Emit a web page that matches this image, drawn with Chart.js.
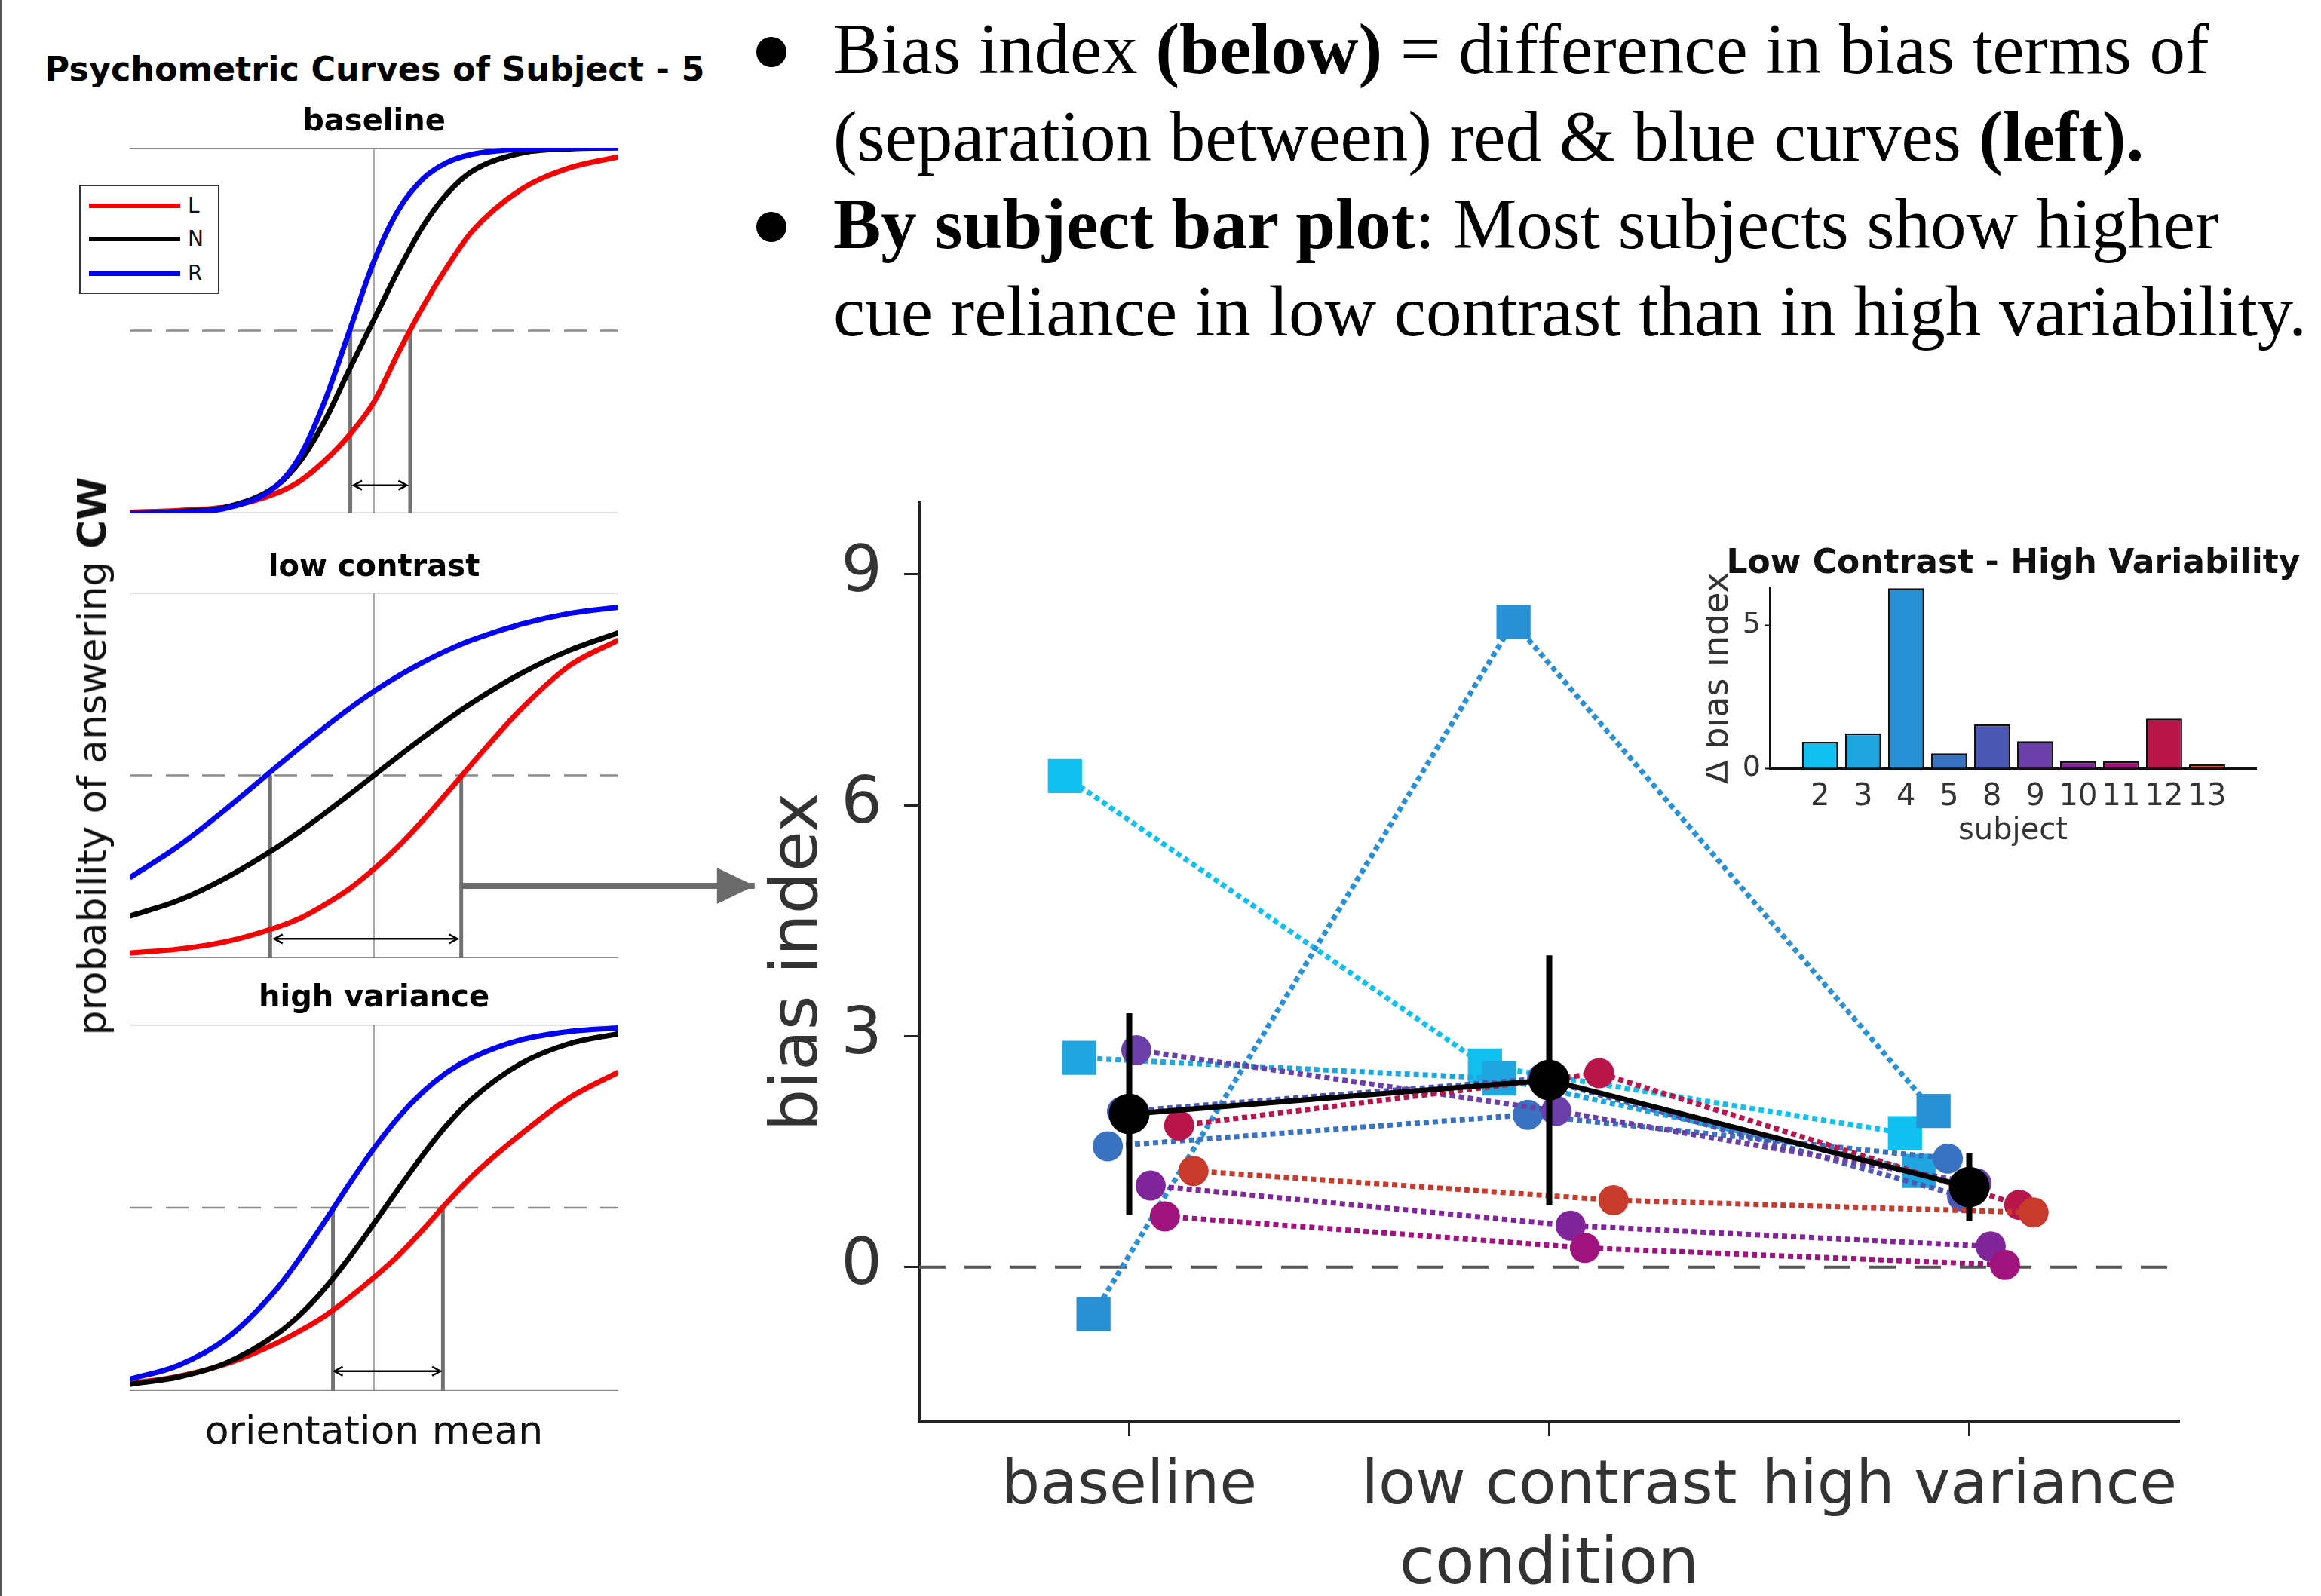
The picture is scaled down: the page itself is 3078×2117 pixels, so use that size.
<!DOCTYPE html>
<html>
<head>
<meta charset="utf-8">
<title>bias index</title>
<script src="https://cdn.jsdelivr.net/npm/chart.js@4.4.1/dist/chart.umd.min.js"></script>
<style>
  html, body { margin: 0; padding: 0; background: #fff; }
  body { width: 3078px; height: 2117px; position: relative; overflow: hidden; font-family: 'DejaVu Sans', sans-serif; }
  canvas { position: absolute; }
  #edge { position: absolute; left: 0; top: 0; width: 3px; height: 2117px; background: #555; }
  #title { position: absolute; left: 497px; top: 70px; transform: translateX(-50%); font-size: 44.5px; font-weight: bold; line-height: 1; white-space: nowrap; color: #000; }
  #notes { position: absolute; left: 1000px; top: 7px; font-family: 'Liberation Serif', 'Times New Roman', serif; font-size: 95px; line-height: 116px; color: #000; white-space: nowrap; }
  #notes .dot { display: inline-block; width: 40px; height: 40px; border-radius: 50%; background: #000; margin: 0 62px 0 3px; vertical-align: 8px; }
  #notes .cont { padding-left: 105px; }
  #ylab { position: absolute; left: 122px; top: 1003px; transform: translate(-50%, -50%) rotate(-90deg); font-size: 52px; line-height: 1; white-space: nowrap; color: #111; }
  #legend { position: absolute; left: 105px; top: 245px; width: 182px; height: 141px; border: 2px solid #333; background: #fff; }
  #legend .ln { position: absolute; left: 11px; width: 121px; height: 6px; }
  #legend .lb { position: absolute; left: 142px; font-size: 28px; line-height: 28px; color: #111; }
</style>
</head>
<body>
<div id="edge"></div>

<div id="notes">
  <div><span class="dot"></span>Bias index <b>(below)</b> = difference in bias terms of</div>
  <div class="cont">(separation between) red &amp; blue curves <b>(left).</b></div>
  <div><span class="dot"></span><b>By subject bar plot</b>: Most subjects show higher</div>
  <div class="cont">cue reliance in low contrast than in high variability.</div>
</div>

<div id="title">Psychometric Curves of Subject - 5</div>
<canvas id="base" width="1010" height="567" style="left:0;top:129px"></canvas>
<canvas id="low" width="1010" height="580" style="left:0;top:720px"></canvas>
<canvas id="high" width="1010" height="642" style="left:0;top:1291px"></canvas>
<div id="ylab">probability of answering <b>CW</b></div>
<div id="legend">
  <div class="ln" style="top:23px;background:#f50000"></div><div class="lb" style="top:12px">L</div>
  <div class="ln" style="top:67px;background:#000"></div><div class="lb" style="top:56px">N</div>
  <div class="ln" style="top:113px;background:#0000f5"></div><div class="lb" style="top:102px">R</div>
</div>

<canvas id="main" width="1910" height="1560" style="left:1000px;top:620px"></canvas>
<canvas id="inset" width="816" height="429" style="left:2262px;top:700px"></canvas>

<script>
// psychometric curves of subject 5
const orientX = [-10, -8, -6, -4, -3, -2, -1, 0, 1, 2, 3, 4, 6, 8, 10];
const baseL = [0.003, 0.008, 0.018, 0.055, 0.09, 0.145, 0.215, 0.305, 0.44, 0.565, 0.675, 0.77, 0.885, 0.945, 0.975];
const baseN = [0, 0.005, 0.018, 0.075, 0.145, 0.255, 0.395, 0.53, 0.665, 0.785, 0.875, 0.935, 0.985, 0.997, 1.0];
const baseR = [0, 0.003, 0.015, 0.075, 0.16, 0.31, 0.50, 0.69, 0.83, 0.915, 0.96, 0.982, 0.996, 0.999, 1.0];
const lowL = [0.014, 0.025, 0.046, 0.084, 0.11, 0.147, 0.19, 0.244, 0.306, 0.377, 0.453, 0.531, 0.68, 0.80, 0.87];
const lowN = [0.115, 0.158, 0.222, 0.302, 0.348, 0.397, 0.448, 0.50, 0.552, 0.603, 0.652, 0.698, 0.778, 0.842, 0.89];
const lowR = [0.22, 0.307, 0.411, 0.523, 0.578, 0.632, 0.683, 0.73, 0.772, 0.809, 0.842, 0.87, 0.913, 0.943, 0.96];
const highL = [0.02, 0.04, 0.075, 0.13, 0.165, 0.205, 0.255, 0.31, 0.37, 0.44, 0.515, 0.585, 0.70, 0.80, 0.87];
const highN = [0.018, 0.038, 0.078, 0.154, 0.21, 0.281, 0.365, 0.457, 0.552, 0.644, 0.727, 0.796, 0.893, 0.948, 0.975];
const highR = [0.032, 0.07, 0.145, 0.277, 0.366, 0.464, 0.566, 0.662, 0.747, 0.816, 0.87, 0.909, 0.958, 0.981, 0.991];

// where blue and red cross 0.5, and the little double arrows between them
const baseCross = [-0.97, 1.48];
const lowCross = [-4.25, 3.57];
const highCross = [-1.68, 2.82];
const baseArrow = [-0.83, 1.34];
const lowArrow = [-4.08, 3.41];
const highArrow = [-1.62, 2.72];

// bias index per subject and condition
const conditions = ['baseline', 'low contrast', 'high variance'];
const subjects = ['2', '3', '4', '5', '8', '9', '10', '11', '12', '13'];
const biasBaseline = [6.38, 2.72, -0.61, 1.57, 2.02, 2.82, 1.06, 0.66, 1.84, 1.25];
const biasLowContrast = [2.62, 2.45, 8.38, 1.98, 2.45, 2.03, 0.54, 0.25, 2.52, 0.87];
const biasHighVariance = [1.74, 1.25, 2.03, 1.41, 0.92, 1.09, 0.27, 0.03, 0.81, 0.71];
const meanBias = [1.99, 2.43, 1.04];
const errBias = [1.31, 1.62, 0.44];
const biasTicks = [0, 3, 6, 9];

// inset: low contrast minus high variability
const deltaBias = [0.92, 1.22, 6.29, 0.52, 1.53, 0.94, 0.24, 0.24, 1.73, 0.13];
const deltaTicks = [0, 5];

const subjectColors = ['#11c0ef', '#1fa6e0', '#2a90d4', '#3a72c2', '#4c58b4',
                       '#6a40a8', '#80259a', '#a0137c', '#b8164a', '#c83a2c'];

Chart.defaults.font.family = "'DejaVu Sans', sans-serif";
Chart.defaults.color = '#333';
Chart.defaults.animation = false;
Chart.defaults.events = [];
Chart.defaults.plugins.legend.display = false;
Chart.defaults.plugins.tooltip.enabled = false;

// draws arrow heads at the ends of datasets that ask for one
const arrowHeads = {
  id: 'arrowHeads',
  afterDatasetsDraw(chart) {
    const ctx = chart.ctx;
    chart.data.datasets.forEach((ds, i) => {
      const head = ds.arrowHead;
      if (!head) return;
      const pts = chart.getDatasetMeta(i).data;
      const n = pts.length;
      const ends = head.both ? [[pts[1], pts[0]], [pts[n - 2], pts[n - 1]]] : [[pts[n - 2], pts[n - 1]]];
      ctx.save();
      ctx.fillStyle = ds.borderColor;
      ctx.strokeStyle = ds.borderColor;
      ctx.lineWidth = ds.borderWidth;
      ends.forEach(([a, b]) => {
        ctx.save();
        ctx.translate(b.x, b.y);
        ctx.rotate(Math.atan2(b.y - a.y, b.x - a.x));
        ctx.beginPath();
        ctx.moveTo(-head.length, -head.half);
        ctx.lineTo(0, 0);
        ctx.lineTo(-head.length, head.half);
        if (head.open) {
          ctx.stroke();
        } else {
          ctx.closePath();
          ctx.fill();
        }
        ctx.restore();
      });
      ctx.restore();
    });
  }
};

function line(points, color, width, extra) {
  return Object.assign({ data: points, showLine: true, borderColor: color, borderWidth: width, pointRadius: 0 }, extra || {});
}

function psych(id, L, N, R, cross, arrowX, arrowY, options, more) {
  const curve = (vals, color) =>
    line(orientX.map((x, i) => ({ x: x, y: vals[i] })), color, 7, { cubicInterpolationMode: 'monotone' });
  const datasets = [
    curve(R, '#0000f5'),
    curve(N, '#000000'),
    curve(L, '#f50000')
  ].concat(more || [], [
    line([{ x: arrowX[0], y: arrowY }, { x: arrowX[1], y: arrowY }], '#000', 2.5,
      { arrowHead: { length: 11, half: 6, both: true, open: true } }),
    line([{ x: cross[0], y: 0 }, { x: cross[0], y: 0.5 }], '#727272', 5),
    line([{ x: cross[1], y: 0 }, { x: cross[1], y: 0.5 }], '#727272', 5),
    line([{ x: -10, y: 0.5 }, { x: 10, y: 0.5 }], '#8c8c8c', 2.5, { borderDash: [30, 18] }),
    line([{ x: 0, y: 0 }, { x: 0, y: 1 }], '#8c8c8c', 1.5),
    line([{ x: -10, y: 1 }, { x: 10, y: 1 }], '#8c8c8c', 2.5),
    line([{ x: -10, y: 0 }, { x: 10, y: 0 }], '#8c8c8c', 2.5)
  ]);
  return new Chart(document.getElementById(id), {
    type: 'scatter',
    data: { datasets: datasets },
    options: Object.assign({ responsive: false, devicePixelRatio: 1 }, options),
    plugins: [arrowHeads]
  });
}

const hiddenX = () => ({ type: 'linear', min: -10, max: 10, display: false });
const hiddenY = () => ({ min: 0, max: 1, display: false });
const panelTitle = (text, top, bottom) =>
  ({ display: true, text: text, font: { size: 40, weight: 'bold' }, color: '#000', padding: { top: top, bottom: bottom } });

psych('base', baseL, baseN, baseR, baseCross, baseArrow, 0.077, {
  layout: { padding: { left: 172, right: 190, top: 0, bottom: 15 } },
  plugins: { title: panelTitle('baseline', 10, 9) },
  scales: { x: hiddenX(), y: hiddenY() }
});

psych('low', lowL, lowN, lowR, lowCross, lowArrow, 0.053, {
  layout: { padding: { left: 172, right: 190, top: 0, bottom: 29 } },
  plugins: { title: panelTitle('low contrast', 10, 8) },
  scales: { x: hiddenX(), y: hiddenY() }
}, [
  // grey arrow pointing to the bias index plot
  line([{ x: lowCross[1], y: 0.198 }, { x: 15.58, y: 0.198 }], '#6b6b6b', 8,
    { clip: false, arrowHead: { length: 50, half: 24 } })
]);

psych('high', highL, highN, highR, highCross, highArrow, 0.054, {
  layout: { padding: { left: 172, right: 190, top: 0, bottom: 0 } },
  plugins: { title: panelTitle('high variance', 10, 10) },
  scales: {
    x: {
      type: 'linear', min: -10, max: 10,
      grid: { display: false, drawTicks: false },
      border: { display: false },
      ticks: { display: false },
      title: { display: true, text: 'orientation mean', font: { size: 52 }, color: '#111', padding: { top: 0, bottom: 0 } },
      afterFit: s => { s.height = 88; s.paddingLeft = 0; s.paddingRight = 0; }
    },
    y: hiddenY()
  }
});

// main bias index plot
const jitter = i => (i - 4.5) * 0.034;
const byCondition = [biasBaseline, biasLowContrast, biasHighVariance];

const subjectSets = subjects.map((s, i) => ({
  label: 'subject ' + s,
  data: byCondition.map((vals, j) => ({ x: j + jitter(i), y: vals[i] })),
  showLine: true,
  borderColor: subjectColors[i],
  borderWidth: 7,
  borderDash: [7, 5],
  pointStyle: i < 3 ? 'rect' : 'circle',
  pointRadius: i < 3 ? 32 : 20,
  pointBackgroundColor: subjectColors[i],
  pointBorderWidth: 0,
  order: 50 - i
}));

const errSets = meanBias.map((m, j) => line(
  [{ x: j, y: m - errBias[j] }, { x: j, y: m + errBias[j] }], '#000', 8, { order: 2 }));

new Chart(document.getElementById('main'), {
  type: 'scatter',
  data: {
    datasets: [
      line(meanBias.map((m, j) => ({ x: j, y: m })), '#000', 7,
        { pointRadius: 27, pointBackgroundColor: '#000', pointBorderWidth: 0, order: 1 }),
      ...errSets,
      ...subjectSets,
      line([{ x: -0.5, y: 0 }, { x: 2.5, y: 0 }], '#555', 4, { borderDash: [35, 25], order: 100 })
    ]
  },
  options: {
    responsive: false,
    devicePixelRatio: 1,
    layout: { autoPadding: false, padding: { top: 47, left: 0, right: 20, bottom: 0 } },
    scales: {
      x: {
        type: 'linear', min: -0.5, max: 2.5,
        afterBuildTicks: s => { s.ticks = conditions.map((c, i) => ({ value: i })); },
        ticks: { callback: v => conditions[v], font: { size: 81 }, color: '#333', padding: 19, autoSkip: false, maxRotation: 0 },
        grid: { drawOnChartArea: false, tickLength: 20, tickColor: '#222', tickWidth: 3 },
        border: { color: '#222', width: 4 },
        title: { display: true, text: 'condition', font: { size: 86 }, color: '#333', padding: { top: 0, bottom: 51 } },
        afterFit: s => { s.height = 295; s.paddingLeft = 0; s.paddingRight = 0; }
      },
      y: {
        min: -2, max: 9.93,
        afterBuildTicks: s => { s.ticks = biasTicks.map(v => ({ value: v })); },
        ticks: { font: { size: 86 }, color: '#333', padding: 29 },
        grid: { drawOnChartArea: false, tickLength: 20, tickColor: '#222', tickWidth: 3 },
        border: { color: '#222', width: 4 },
        title: { display: true, text: 'bias index', font: { size: 88 }, color: '#333', padding: { top: 7 } },
        afterFit: s => { s.width = 219; s.paddingTop = 0; s.paddingBottom = 0; }
      }
    }
  }
});

// inset bar plot
new Chart(document.getElementById('inset'), {
  type: 'bar',
  data: {
    datasets: [{
      data: subjects.map((s, i) => ({ x: i, y: deltaBias[i] })),
      backgroundColor: subjectColors,
      borderColor: '#111',
      borderWidth: 2.5,
      barPercentage: 0.84,
      categoryPercentage: 1
    }]
  },
  options: {
    responsive: false,
    devicePixelRatio: 1,
    layout: { autoPadding: false, padding: 0 },
    plugins: {
      title: { display: true, text: 'Low Contrast - High Variability', font: { size: 44, weight: 'bold' }, color: '#111', padding: { top: 22, bottom: 5 } }
    },
    scales: {
      x: {
        type: 'linear', min: -1.17, max: 10.14, offset: false,
        afterBuildTicks: s => { s.ticks = subjects.map((_, i) => ({ value: i })); },
        ticks: { callback: v => subjects[v], font: { size: 40 }, color: '#333', padding: 15, autoSkip: false, maxRotation: 0 },
        grid: { display: false, drawTicks: false },
        border: { color: '#111', width: 3 },
        title: { display: true, text: 'subject', font: { size: 40 }, color: '#333', padding: { top: 0, bottom: 2 } },
        afterFit: s => { s.height = 110; s.paddingLeft = 0; s.paddingRight = 0; }
      },
      y: {
        min: 0, max: 6.3,
        afterBuildTicks: s => { s.ticks = deltaTicks.map(v => ({ value: v })); },
        ticks: { font: { size: 38 }, color: '#333', padding: 6 },
        grid: { drawOnChartArea: false, tickLength: 6, tickColor: '#111', tickWidth: 2 },
        border: { color: '#111', width: 3 },
        title: { display: true, text: 'Δ bias index', font: { size: 46, lineHeight: 0.76 }, color: '#333', padding: 0 },
        afterFit: s => { s.width = 85; s.paddingTop = 0; s.paddingBottom = 0; }
      },
      y2: {
        position: 'right',
        grid: { display: false }, border: { display: false }, ticks: { display: false },
        afterFit: s => { s.width = 86; s.paddingTop = 0; s.paddingBottom = 0; }
      }
    }
  }
});
</script>
</body>
</html>
